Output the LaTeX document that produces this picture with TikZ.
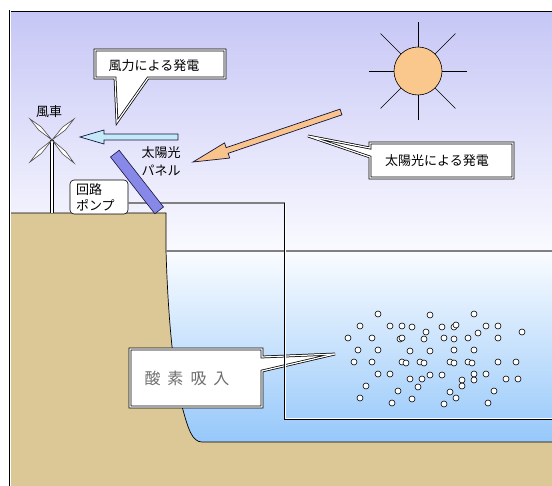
\documentclass[tikz,border=0pt]{standalone}
\usepackage{fontspec}
\setmainfont{Noto Sans CJK JP}
\usetikzlibrary{calc}
\definecolor{skytop}{RGB}{198,198,246}
\definecolor{skybot}{RGB}{250,250,255}
\definecolor{watertop}{RGB}{250,252,255}
\definecolor{waterbot}{RGB}{150,200,250}
\definecolor{soil}{RGB}{220,200,150}
\definecolor{sunfill}{RGB}{250,200,140}
\definecolor{panelfill}{RGB}{136,136,232}
\definecolor{windfill}{RGB}{196,234,250}
\definecolor{rayfill}{RGB}{248,196,140}
\definecolor{outline}{RGB}{20,20,60}
\definecolor{oxytext}{RGB}{110,110,110}

\begin{document}
\begin{tikzpicture}[x=1pt,y=-1pt,
  callout/.style={draw=black, line width=0.75pt, double=white, double distance=1.2pt, fill=white},
  lbl/.style={font=\fontsize{13}{18}\selectfont, inner sep=0pt},
  twin/.style={draw=black, line width=0.75pt, double=white, double distance=1pt},
  bubble/.style={draw=black, line width=0.6pt, fill=white},
  blockarrow/.style={draw=outline, line width=0.7pt, line join=miter},
  blade/.style={draw=black!70, line width=0.6pt, fill=white},
  pumpbox/.style={draw=black, line width=0.6pt, fill=white, rounded corners=4pt,
    minimum width=58pt, minimum height=34pt, inner xsep=6pt, inner ysep=0pt,
    text width=46pt, align=left, font=\fontsize{13}{16}\selectfont}]
\useasboundingbox (0,0) rectangle (552,486);
\fill[white] (0,0) rectangle (552,486);

% sky and water
\shade[top color=skytop, bottom color=skybot] (10,11) rectangle (552,251);
\shade[top color=watertop, bottom color=waterbot] (160,251) rectangle (552,442);

% ground with the cliff edge
\fill[soil] (10,213) -- (166,213) -- (166,250)
  .. controls (168,320) and (174,380) .. (183,410)
  .. controls (188,428) and (192,442) .. (202,442)
  -- (552,442) -- (552,486) -- (10,486) -- cycle;
\draw[line width=0.7pt] (10,213) -- (166,213) -- (166,250)
  .. controls (168,320) and (174,380) .. (183,410)
  .. controls (188,428) and (192,442) .. (202,442) -- (552,442);

% water surface
\draw[gray, line width=1.3pt] (166,251) -- (552,251);

% frame
\draw[twin] (10,486) -- (10,11) -- (552,11);

% sun
\node[circle, draw=black, line width=0.6pt, fill=sunfill, minimum size=48pt, inner sep=0pt] (sun) at (418,71) {};
\foreach \a/\r in {0/49,90/49,180/49,270/49,45/53,135/53,225/53,315/53}
  \draw[line width=0.6pt] (sun.\a) -- ($(sun.center)!\r pt!(sun.\a)$);

% windmill
\coordinate (hub) at (52,140);
\coordinate (base) at (52,213);
\draw[black, line width=0.6pt, double=white, double distance=2pt] (hub) -- (base);
\foreach \tx/\ty in {30/119,74/119,30/162,74/163}{
  \coordinate (tip) at (\tx,\ty);
  \coordinate (mid) at ($(hub)!0.55!(tip)$);
  \draw[blade] (hub) -- ($(mid)!2pt!90:(tip)$) -- (tip) -- ($(mid)!2pt!-90:(tip)$) -- cycle;
}
\node[lbl] (windlbl) at (49,112) {風車};

% pump and pipe
\node[pumpbox] (pump) at (99,197) {回路\\ポンプ};
\coordinate (pipeA) at (285,203);
\coordinate (pipeB) at (285,419);
\coordinate (pipeC) at (552,419);
\draw[gray, line width=2pt] (pump.east |- pipeA) -- (pipeA);

% solar panel
\node[draw=outline, line width=0.6pt, fill=panelfill, minimum width=72pt, minimum height=11pt,
  inner sep=0pt, rotate=-52] (panel) at (137,182) {};
\node[lbl, align=center] (panellbl) at (161,161) {太陽光\\パネル};

% wind arrow
\coordinate (wt) at (178,137);
\coordinate (wp) at (80,137);
\coordinate (wh) at ($(wp)!24pt!(wt)$);
\filldraw[blockarrow, fill=windfill]
  ($(wt)!3pt!90:(wp)$) -- ($(wh)!3pt!90:(wp)$) -- ($(wh)!7pt!90:(wp)$) -- (wp)
  -- ($(wh)!7pt!-90:(wp)$) -- ($(wh)!3pt!-90:(wp)$) -- ($(wt)!3pt!-90:(wp)$) -- cycle;

% sunlight arrow
\coordinate (st) at (341,112);
\coordinate (sp) at (193,162);
\coordinate (sh) at ($(sp)!36pt!(st)$);
\filldraw[blockarrow, fill=rayfill]
  ($(st)!3pt!90:(sp)$) -- ($(sh)!3pt!90:(sp)$) -- ($(sh)!8pt!90:(sp)$) -- (sp)
  -- ($(sh)!8pt!-90:(sp)$) -- ($(sh)!3pt!-90:(sp)$) -- ($(st)!3pt!-90:(sp)$) -- cycle;

% callouts
\draw[callout] (95,50) -- (225,50) -- (225,78) -- (148,78) -- (117,122) -- (115,78) -- (95,78) -- cycle;
\node[lbl] (windtxt) at (154,66) {風力による発電};

\draw[callout] (370,143) -- (513,143) -- (513,178) -- (370,178) -- (370,157) -- (308,136) -- (370,148) -- cycle;
\node[lbl] (suntxt) at (437,161) {太陽光による発電};

\draw[callout] (130,349) -- (262,349) -- (262,357) -- (335,354) -- (262,371) -- (262,407) -- (130,407) -- cycle;
\node[inner sep=0pt, text=oxytext, font=\fontsize{16}{18}\selectfont] (oxytxt) at (187,378)
  {酸\hspace{7pt}素\hspace{7pt}吸\hspace{7pt}入};

% air pipe into the water
\draw[twin] (pipeA) -- (pipeB) -- (pipeC);

% air bubbles
\foreach \x/\y in {378/314, 430/315, 474/314, 360/326, 390/326, 402/326, 412/327, 442/327,
  454/327, 456/325, 486/326, 498/326, 426/332, 478/333, 522/332, 348/338, 372/338, 400/339,
  402/338, 424/339, 444/338, 454/339, 468/338, 498/338, 358/350, 378/350, 410/351, 430/351,
  454/350, 474/350, 354/362, 372/362, 402/362, 406/363, 420/362, 424/363, 450/362, 454/363,
  468/362, 472/363, 498/362, 516/362, 378/374, 390/374, 430/375, 442/375, 474/374, 486/374,
  410/379, 422/379, 462/380, 474/380, 506/379, 518/379, 366/386, 418/387, 462/386, 398/391,
  450/392, 494/391, 360/398, 412/399, 456/398, 392/403, 444/404, 488/403}
  \draw[bubble] (\x,\y) circle (3pt);
\end{tikzpicture}
\end{document}
